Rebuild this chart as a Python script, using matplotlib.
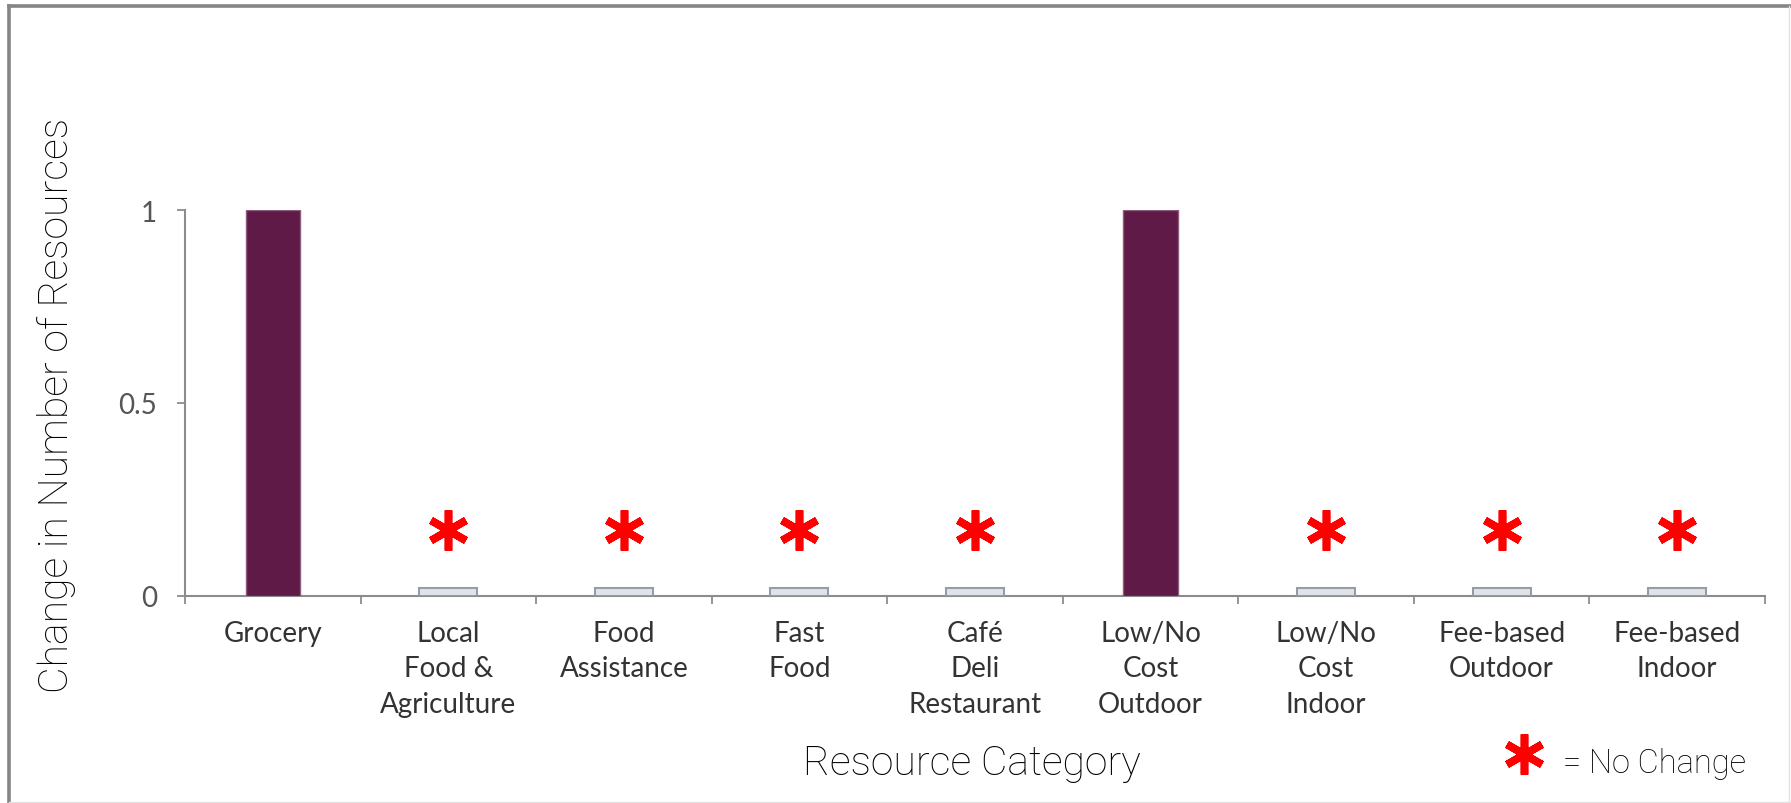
import numpy as np
import matplotlib
matplotlib.use("Agg")
import matplotlib.pyplot as plt
from matplotlib.lines import Line2D
from matplotlib.markers import MarkerStyle

# data
categories = ["Grocery", "Local\nFood &\nAgriculture", "Food\nAssistance", "Fast\nFood",
              "Café\nDeli\nRestaurant", "Low/No\nCost\nOutdoor", "Low/No\nCost\nIndoor",
              "Fee-based\nOutdoor", "Fee-based\nIndoor"]
changes = [1, 0, 0, 0, 0, 1, 0, 0, 0]
y_ticks = [0, 0.5, 1]
y_tick_labels = ["0", "0.5", "1"]

# styles
purple = "#5f1a47"
stub_fill = "#dfe3ea"
stub_edge = "#9a9ca4"
axis_col = "#8c8c8c"
tick_col = "#333333"
star_red = "#ff0000"
stub_h = 0.022      # tiny placeholder bar drawn for zero change
star_y = 0.17       # height of the "no change" asterisk
bar_w = 0.31

fig = plt.figure(figsize=(17.91, 8.04), dpi=100)
ax = fig.add_axes([185 / 1791, 1 - 597 / 804, (1765 - 185) / 1791, (597 - 211) / 804])

x = np.arange(len(categories))
vals = np.array(changes, dtype=float)
nz = vals != 0

ax.bar(x[nz], vals[nz], width=bar_w, color=purple, edgecolor="#8d5a7c", linewidth=1.0, zorder=3)
ax.bar(x[~nz], np.full((~nz).sum(), stub_h), width=bar_w + 0.02, color=stub_fill,
       edgecolor=stub_edge, linewidth=1.5, zorder=3)

star = MarkerStyle((6, 2, 0), capstyle="round")
ax.plot(x[~nz], np.full((~nz).sum(), star_y), linestyle="none", marker=star, markersize=29,
        markeredgewidth=5.5, color=star_red, clip_on=False, zorder=4)

ax.set_xlim(-0.5, len(categories) - 0.5)
ax.set_ylim(0, 1)

# ticks at category boundaries, labels at centres
ax.set_xticks(np.arange(len(categories) + 1) - 0.5)
ax.set_xticklabels([])
ax.set_xticks(x, minor=True)
ax.set_xticklabels(categories, minor=True, fontfamily="Lato", fontsize=20, color=tick_col,
                   linespacing=1.45)
ax.tick_params(axis="x", which="major", length=6, width=1.3, color=axis_col, direction="out")
ax.tick_params(axis="x", which="minor", length=0, pad=17)

ax.set_yticks(y_ticks)
ax.set_yticklabels(y_tick_labels, fontfamily="Lato", fontsize=20, color="#555555")
ax.tick_params(axis="y", length=6, width=1.3, color=axis_col, pad=14)

for s in ["top", "right"]:
    ax.spines[s].set_visible(False)
for s in ["left", "bottom"]:
    ax.spines[s].set_color(axis_col)
    ax.spines[s].set_linewidth(1.5)

# axis titles
fig.text(57 / 1791, 1 - 405 / 804, "Change in Number of Resources", rotation=90,
         ha="center", va="center", fontfamily="Roboto", fontweight="light", fontsize=29.5,
         color="black")
fig.text(972 / 1791, 1 - 775 / 804, "Resource Category", ha="center", va="baseline",
         fontfamily="Roboto", fontweight="light", fontsize=29.5, color="black")

# legend for the asterisk
fig.add_artist(Line2D([1524 / 1791], [1 - 755 / 804], linestyle="none", marker=star,
                      markersize=29, markeredgewidth=5.5, color=star_red,
                      transform=fig.transFigure))
fig.text(1563 / 1791, 1 - 773 / 804, "= No Change", ha="left", va="baseline",
         fontfamily="Roboto", fontweight="light", fontsize=23.5, color="black")

# frame around the picture
fig.add_artist(Line2D([9 / 1791, 9 / 1791], [0, 1 - 7 / 804], color="#858585", linewidth=2.6,
                      transform=fig.transFigure))
fig.add_artist(Line2D([9 / 1791, 1], [1 - 7 / 804, 1 - 7 / 804], color="#858585", linewidth=2.6,
                      transform=fig.transFigure))
fig.add_artist(Line2D([9 / 1791, 1], [1 / 804, 1 / 804], color="#e2e2e2", linewidth=1,
                      transform=fig.transFigure))
fig.add_artist(Line2D([1789 / 1791, 1789 / 1791], [0, 1 - 7 / 804], color="#e2e2e2",
                      linewidth=1, transform=fig.transFigure))

fig.savefig("out.png", dpi=100)
